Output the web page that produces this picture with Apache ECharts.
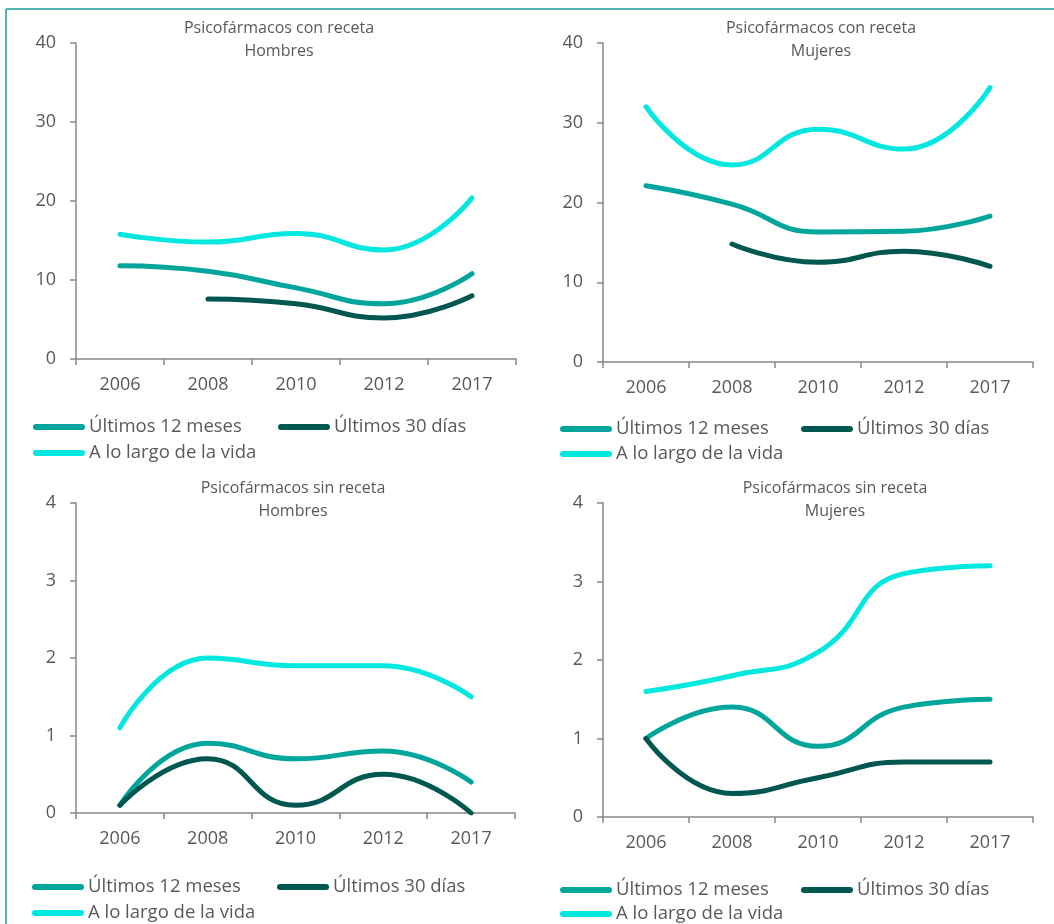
<!DOCTYPE html>
<html>
<head>
<meta charset="utf-8">
<title>Psicofármacos</title>
<script src="https://cdn.jsdelivr.net/npm/echarts@6/dist/echarts.min.js"></script>
<style>
  html, body { margin: 0; padding: 0; background: #fff; }
  #chart { width: 1054px; height: 924px; }
</style>
</head>
<body>
<div id="chart"></div>
<script>
// categories
const years = ['2006', '2008', '2010', '2012', '2017']

// con receta - hombres
const conHombres12m = [11.8, 11.1, 9.0, 7.0, 10.8]
const conHombres30d = [null, 7.6, 7.0, 5.2, 8.0]
const conHombresVida = [15.8, 14.8, 15.9, 13.8, 20.4]

// con receta - mujeres
const conMujeres12m = [22.1, 19.8, 16.3, 16.4, 18.3]
const conMujeres30d = [null, 14.8, 12.5, 13.9, 12.0]
const conMujeresVida = [32.0, 24.7, 29.2, 26.7, 34.4]

// sin receta - hombres
const sinHombres12m = [0.1, 0.9, 0.7, 0.8, 0.4]
const sinHombres30d = [0.1, 0.7, 0.1, 0.5, 0.0]
const sinHombresVida = [1.1, 2.0, 1.9, 1.9, 1.5]

// sin receta - mujeres
const sinMujeres12m = [1.0, 1.4, 0.9, 1.4, 1.5]
const sinMujeres30d = [1.0, 0.3, 0.5, 0.7, 0.7]
const sinMujeresVida = [1.6, 1.8, 2.1, 3.1, 3.2]

const seriesNames = ['Últimos 12 meses', 'Últimos 30 días', 'A lo largo de la vida']
const colors = ['#00A59C', '#00574F', '#00E8E0']

const FONT = '"Open Sans"'
const TEXT = '#595959'
const AXIS = '#888888'

const panels = [
  { title: 'Psicofármacos con receta\nHombres', cx: 274, grid: { left: 76, top: 43, width: 440, height: 316 },
    max: 40, interval: 10, data: [conHombres12m, conHombres30d, conHombresVida],
    legend: { x1: 33, x2: 278, y1: 427, y2: 453 } },
  { title: 'Psicofármacos con receta\nMujeres', cx: 816, grid: { left: 603, top: 43, width: 430, height: 319 },
    max: 40, interval: 10, data: [conMujeres12m, conMujeres30d, conMujeresVida],
    legend: { x1: 560, x2: 801, y1: 429, y2: 454 } },
  { title: 'Psicofármacos sin receta\nHombres', cx: 288, grid: { left: 76, top: 503, width: 439, height: 310 },
    max: 4, interval: 1, data: [sinHombres12m, sinHombres30d, sinHombresVida],
    legend: { x1: 32, x2: 277, y1: 887, y2: 913 } },
  { title: 'Psicofármacos sin receta\nMujeres', cx: 830, grid: { left: 603, top: 503, width: 430, height: 314 },
    max: 4, interval: 1, data: [sinMujeres12m, sinMujeres30d, sinMujeresVida],
    legend: { x1: 560, x2: 801, y1: 890, y2: 914 } }
]

const legendIcon = 'path://M3,0 L49,0 A3,3 0 0 1 49,6 L3,6 A3,3 0 0 1 3,0 Z'

const chart = echarts.init(document.getElementById('chart'))

const option = {
  animation: false,
  backgroundColor: '#fff',
  textStyle: { fontFamily: FONT },
  title: [],
  grid: [],
  xAxis: [],
  yAxis: [],
  legend: [],
  series: [],
  graphic: [
    { type: 'line', shape: { x1: 6, y1: 9, x2: 1054, y2: 9 }, style: { stroke: '#1A9E96', lineWidth: 1.5 } },
    { type: 'line', shape: { x1: 6, y1: 9, x2: 6, y2: 924 }, style: { stroke: '#1A9E96', lineWidth: 1.5 } }
  ]
}

panels.forEach((p, i) => {
  option.title.push({
    text: p.title,
    left: p.cx,
    textAlign: 'center',
    top: p.grid.top - 31,
    textStyle: { fontFamily: FONT, fontSize: 16, fontWeight: 'normal', color: TEXT, lineHeight: 23 }
  })
  option.grid.push(Object.assign({ containLabel: false }, p.grid))
  option.xAxis.push({
    type: 'category',
    gridIndex: i,
    data: years,
    boundaryGap: true,
    axisLine: { lineStyle: { color: AXIS, width: 1.5 } },
    axisTick: { show: true, length: 6, lineStyle: { color: AXIS, width: 1.5 } },
    axisLabel: { color: TEXT, fontFamily: FONT, fontSize: 18, margin: 17 },
    splitLine: { show: false }
  })
  option.yAxis.push({
    type: 'value',
    gridIndex: i,
    min: 0,
    max: p.max,
    interval: p.interval,
    axisLine: { show: true, lineStyle: { color: AXIS, width: 1.5 } },
    axisTick: { show: true, length: 6, lineStyle: { color: AXIS, width: 1.5 } },
    axisLabel: { color: TEXT, fontFamily: FONT, fontSize: 18, margin: 20 },
    splitLine: { show: false }
  })
  seriesNames.forEach((name, k) => {
    option.series.push({
      name: name,
      type: 'line',
      xAxisIndex: i,
      yAxisIndex: i,
      data: p.data[k],
      smooth: 0.5,
      symbol: 'none',
      connectNulls: false,
      z: k === 1 ? 4 : 3,
      lineStyle: { color: colors[k], width: 5, cap: 'round' },
      itemStyle: { color: colors[k] }
    })
  })
  const L = p.legend
  const spots = [[L.x1, L.y1], [L.x2, L.y1], [L.x1, L.y2]]
  seriesNames.forEach((name, k) => {
    option.legend.push({
      data: [{ name: name, icon: legendIcon, itemStyle: { color: colors[k] } }],
      left: spots[k][0],
      top: spots[k][1] - 11,
      padding: 0,
      itemWidth: 52,
      itemHeight: 6,
      itemGap: 0,
      selectedMode: false,
      textStyle: { fontFamily: FONT, fontSize: 18.5, color: TEXT, padding: [0, 0, 0, -1], lineHeight: 22 }
    })
  })
})

chart.setOption(option)
window.addEventListener('resize', () => chart.resize())
</script>
</body>
</html>
